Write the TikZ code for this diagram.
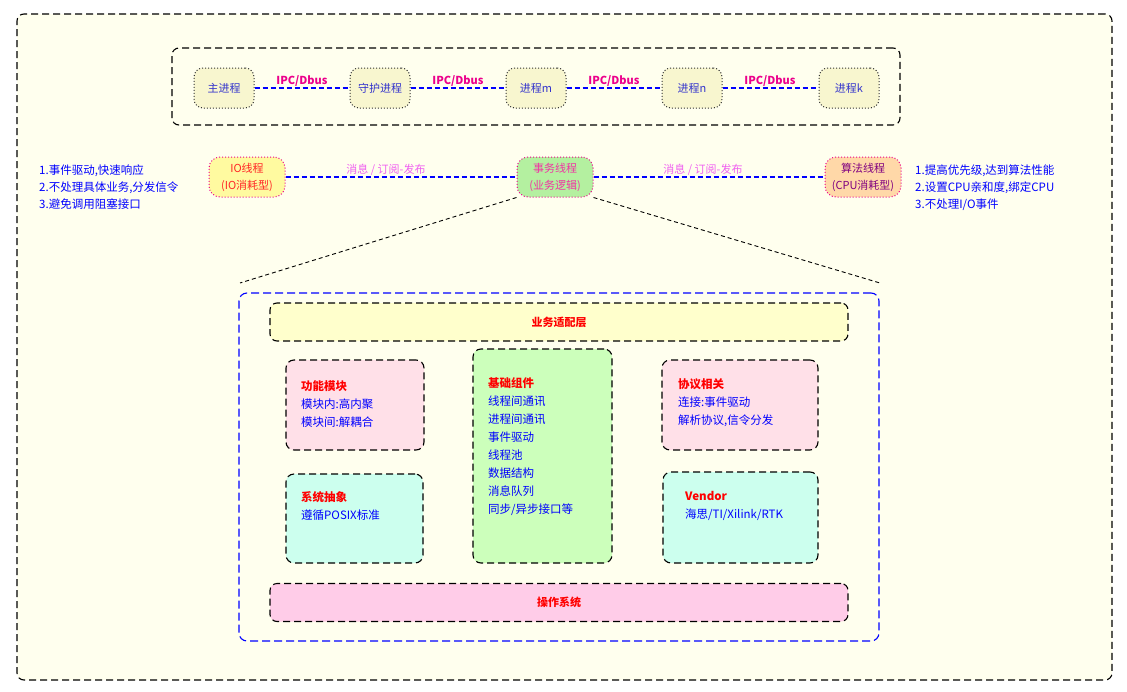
\documentclass[tikz,border=0pt]{standalone}
\usepackage{fontspec}
\setmainfont{Noto Sans CJK SC}
\usepackage{xcolor}
\usepackage{tikz}
\usetikzlibrary{positioning}

\definecolor{paper}{HTML}{FFFFEE}
\definecolor{procfill}{HTML}{F8F6CF}
\definecolor{iofill}{HTML}{FFFAA0}
\definecolor{bizfill}{HTML}{B4F0A0}
\definecolor{algfill}{HTML}{FFD8A8}
\definecolor{adaptfill}{HTML}{FFFFCC}
\definecolor{modfill}{HTML}{FFE0E8}
\definecolor{basefill}{HTML}{CCFFBB}
\definecolor{absfill}{HTML}{CCFFEE}
\definecolor{osfill}{HTML}{FFCCE8}
\definecolor{proctext}{HTML}{3333CC}
\definecolor{msgtext}{HTML}{F060F0}

\begin{document}
\begin{tikzpicture}[
          x=1pt, y=-1pt,
          every node/.style={inner sep=0pt, font=\fontsize{11}{13}\selectfont},
          frame/.style={draw=black, dash pattern=on 7pt off 4pt, line width=1.1pt, rounded corners=7pt},
          procbox/.style={draw=black!80, line width=1pt, dash pattern=on 1pt off 2pt, rounded corners=9pt, fill=procfill,
                          minimum width=60pt, minimum height=40pt, text=proctext},
          thrbox/.style={draw=magenta, line width=1pt, dash pattern=on 1pt off 2pt, rounded corners=11pt,
                         minimum width=76pt, minimum height=40pt, align=center},
          link/.style={draw=blue, line width=1.8pt, dash pattern=on 5pt off 3pt},
          ipclabel/.style={text=magenta, font=\fontsize{11}{13}\selectfont\bfseries},
          msglabel/.style={text=msgtext},
          notes/.style={text=blue, align=left, anchor=north west, font=\fontsize{11.5}{17}\selectfont},
          layer/.style={frame, minimum width=578pt, minimum height=38pt, text=red,
                        font=\fontsize{11}{13}\selectfont\bfseries},
          module/.style={frame, rounded corners=8pt},
          items/.style={text=blue, align=left, anchor=north west, font=\fontsize{11.5}{18}\selectfont}
        ]
          \fill[white] (0,0) rectangle (1127,691);
          \useasboundingbox (0,0) rectangle (1127,691);

          % frames
          \node[frame, fill=paper, minimum width=1095pt, minimum height=666pt] (outer) at (564.5,347) {};
          \node[frame, fill=paper, minimum width=728pt, minimum height=77pt] (procgroup) at (536,86.5) {};

          % processes
          \node[procbox] (main) at (224,88) {主进程};
          \node[procbox] (guard) at (380,88) {守护进程};
          \node[procbox] (procm) at (536,88) {进程m};
          \node[procbox] (procn) at (692,88) {进程n};
          \node[procbox] (prock) at (849,88) {进程k};
          \draw[link] (main) -- (guard);
          \draw[link] (guard) -- (procm);
          \draw[link] (procm) -- (procn);
          \draw[link] (procn) -- (prock);
          \node[ipclabel] (ipc1) at (302,81) {IPC/Dbus};
          \node[ipclabel] (ipc2) at (458,81) {IPC/Dbus};
          \node[ipclabel] (ipc3) at (614,81) {IPC/Dbus};
          \node[ipclabel] (ipc4) at (770,81) {IPC/Dbus};

          % threads
          \node[thrbox, fill=iofill, text=red!85!white] (io) at (247,177) {IO线程\\[4pt](IO消耗型)};
          \node[thrbox, fill=bizfill, text=magenta!80] (biz) at (555,177) {事务线程\\[4pt](业务逻辑)};
          \node[thrbox, fill=algfill, text=violet] (alg) at (863,177) {算法线程\\[4pt](CPU消耗型)};
          \draw[link] (io) -- (biz);
          \draw[link] (biz) -- (alg);
          \node[msglabel] (msg1) at (386,170) {消息 / 订阅-发布};
          \node[msglabel] (msg2) at (703,170) {消息 / 订阅-发布};

          \node[notes] (ionotes) at (39,165) {1.事件驱动,快速响应\\2.不处理具体业务,分发信令\\3.避免调用阻塞接口};
          \node[notes] (algnotes) at (915,165) {1.提高优先级,达到算法性能\\2.设置CPU亲和度,绑定CPU\\3.不处理I/O事件};

          % zoom into the business thread
          \coordinate (zoomleft) at (240,283);
          \coordinate (zoomright) at (880,283);
          \draw[black, line width=0.9pt, dash pattern=on 4pt off 3pt] (biz.south west) -- (zoomleft);
          \draw[black, line width=0.9pt, dash pattern=on 4pt off 3pt] (biz.south east) -- (zoomright);

          \node[draw=blue, dash pattern=on 8pt off 4pt, line width=1.1pt, rounded corners=8pt, fill=paper,
                minimum width=640pt, minimum height=348pt] (core) at (559,467) {};

          \node[layer, fill=adaptfill] (adapt) at (559,322) {业务适配层};
          \node[layer, fill=osfill] (os) at (559,602.5) {操作系统};

          \node[module, fill=modfill, minimum width=138pt, minimum height=90pt] (func) at (355,405) {};
          \node[module, fill=basefill, minimum width=139pt, minimum height=214pt] (base) at (542.5,456) {};
          \node[module, fill=modfill, minimum width=156pt, minimum height=90pt] (proto) at (740,405) {};
          \node[module, fill=absfill, minimum width=137pt, minimum height=89pt] (sysabs) at (354.5,518.5) {};
          \node[module, fill=absfill, minimum width=155pt, minimum height=91pt] (vendor) at (740.5,517.5) {};

          \node[items] (functext) at (301,380) {{\color{red}\bfseries 功能模块}\\模块内:高内聚\\模块间:解耦合};
          \node[items] (basetext) at (488,377) {{\color{red}\bfseries 基础组件}\\线程间通讯\\进程间通讯\\事件驱动\\线程池\\数据结构\\消息队列\\同步/异步接口等};
          \node[items] (prototext) at (678,378) {{\color{red}\bfseries 协议相关}\\连接:事件驱动\\解析协议,信令分发};
          \node[items] (sysabstext) at (301,491) {{\color{red}\bfseries 系统抽象}\\遵循POSIX标准};
          \node[items] (vendortext) at (685,491) {{\color{red}\bfseries Vendor}\\海思/TI/Xilink/RTK};
        \end{tikzpicture}
\end{document}
